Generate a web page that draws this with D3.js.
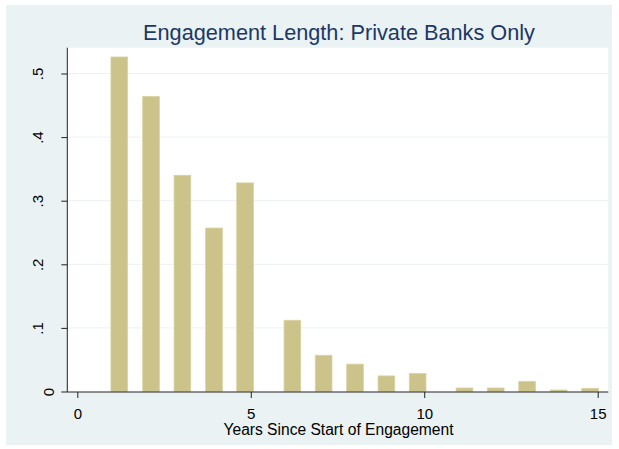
<!DOCTYPE html>
<html>
<head>
<meta charset="utf-8">
<script src="https://cdn.jsdelivr.net/npm/d3@7"></script>
<style>
  body { margin: 0; background: #fff; }
  text { font-family: "Liberation Sans", Arial, sans-serif; }
</style>
</head>
<body>
<div id="chart"></div>
<script>
// Bar centres (years axis) and shares.
const years = [1.21, 2.125, 3.03, 3.94, 4.835, 6.2, 7.1, 8.005, 8.91, 9.81, 11.16, 12.06, 12.965, 13.875, 14.78];
const shares = [0.526, 0.464, 0.340, 0.257, 0.328, 0.112, 0.057, 0.043, 0.0245, 0.0285, 0.0055, 0.0055, 0.016, 0.0024, 0.005];
const xTicks = [0, 5, 10, 15];
const yTicks = [0, 0.1, 0.2, 0.3, 0.4, 0.5];
const barWidth = 0.481;

const width = 619;
const height = 449;

// Plot region.
const plotLeft = 67.3, plotRight = 608.3, plotTop = 47.7, plotBottom = 392;

let svg = d3.select('#chart')
  .append('svg')
  .attr('width', width)
  .attr('height', height);

// Outer background.
svg.append('rect')
  .attr('x', 6).attr('y', 5)
  .attr('width', 606).attr('height', 440)
  .attr('fill', '#eaf2f3');

svg.append('rect')
  .attr('x', plotLeft).attr('y', plotTop)
  .attr('width', plotRight - plotLeft).attr('height', plotBottom - plotTop)
  .attr('fill', '#fff');

let x = d3.scaleLinear().domain([0, 15]).range([77.3, 597.7]);
let y = d3.scaleLinear().domain([0, 0.5]).range([391.5, 73.5]);

// Grid lines.
svg.append('g')
  .selectAll('line')
  .data(yTicks.filter(t => t > 0))
  .enter()
  .append('line')
    .attr('x1', plotLeft + 1).attr('x2', plotRight)
    .attr('y1', d => y(d)).attr('y2', d => y(d))
    .attr('stroke', '#eaf2f3')
    .attr('stroke-width', 1);

// Bars.
svg.append('g')
  .selectAll('rect')
  .data(years)
  .enter()
  .append('rect')
    .attr('x', d => x(d - barWidth / 2))
    .attr('y', (d, i) => y(shares[i]))
    .attr('width', x(barWidth) - x(0))
    .attr('height', (d, i) => y(0) - y(shares[i]))
    .attr('fill', '#cbc38a')
    .attr('stroke', '#d8d3a2')
    .attr('stroke-width', 0.8);

// Axes.
let xAxis = d3.axisBottom(x)
  .tickValues(xTicks)
  .tickSize(6)
  .tickSizeOuter(0)
  .tickFormat(d => d);

let xg = svg.append('g')
  .attr('transform', `translate(0,${plotBottom})`)
  .call(xAxis);
xg.select('.domain').attr('d', `M${plotLeft},0H${plotRight}`).attr('stroke', '#222');
xg.selectAll('.tick line').attr('stroke', '#222');
xg.selectAll('.tick text')
  .attr('y', 0).attr('dy', null)
  .attr('transform', 'translate(0,27)')
  .attr('font-size', 15)
  .attr('fill', '#000');

let yAxis = d3.axisLeft(y)
  .tickValues(yTicks)
  .tickSize(6)
  .tickSizeOuter(0)
  .tickFormat(d => d === 0 ? '0' : d3.format('.1f')(d).replace(/^0/, ''));

let yg = svg.append('g')
  .attr('transform', `translate(${plotLeft},0)`)
  .call(yAxis);
yg.select('.domain').attr('d', `M0,${plotTop}V${plotBottom}`).attr('stroke', '#222');
yg.selectAll('.tick line').attr('stroke', '#222');
yg.selectAll('.tick text')
  .attr('x', 0).attr('dy', null)
  .attr('text-anchor', 'middle')
  .attr('transform', d => `translate(${d === 0 ? -13 : -24},0) rotate(-90)`)
  .attr('font-size', 15)
  .attr('fill', '#000');

svg.selectAll('.tick').attr('font-family', null);

// Titles.
svg.append('text')
  .attr('x', 339).attr('y', 39.5)
  .attr('text-anchor', 'middle')
  .attr('font-size', 21.7)
  .attr('fill', '#1c3766')
  .text('Engagement Length: Private Banks Only');

svg.append('text')
  .attr('x', 338.5).attr('y', 435)
  .attr('text-anchor', 'middle')
  .attr('font-size', 15.6)
  .attr('fill', '#000')
  .text('Years Since Start of Engagement');
</script>
</body>
</html>
